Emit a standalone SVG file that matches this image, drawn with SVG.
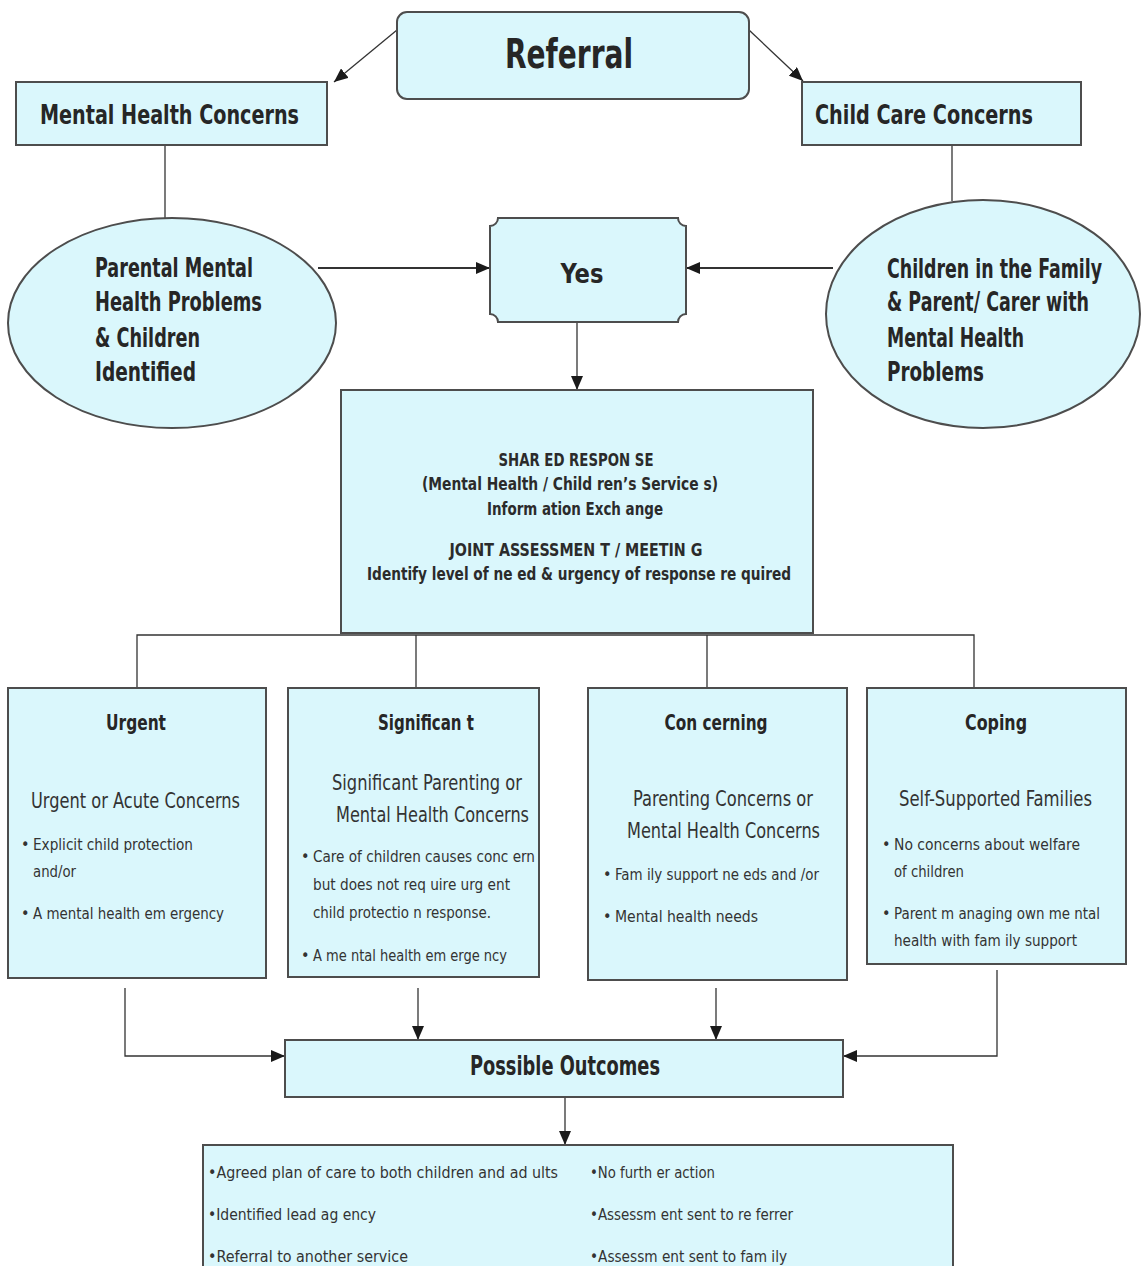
<svg xmlns="http://www.w3.org/2000/svg" width="1142" height="1266" viewBox="0 0 1142 1266">
<style>
.box{fill:#daf7fc;stroke:#4d4d4d;stroke-width:2}
.ln{fill:none;stroke:#333;stroke-width:1.3}
.ar{fill:none;stroke:#333;stroke-width:1.3;marker-end:url(#ah)}
text{font-family:"DejaVu Sans Condensed","Liberation Sans Narrow","Liberation Sans",sans-serif;fill:#262626}
.h{font-weight:bold}
.big{font-size:40px}
.t26{font-size:27px}
.t22{font-size:21px}
.sub{font-size:21px;fill:#333}
.s{font-size:16px;fill:#333}
.sr{font-size:17px;font-weight:bold;fill:#2b2b2b}
.mid{text-anchor:middle}
</style>
<defs>
<marker id="ah" markerUnits="userSpaceOnUse" markerWidth="14" markerHeight="12" refX="14" refY="6" orient="auto">
<path d="M0,0 L14,6 L0,12 z" fill="#1a1a1a"/>
</marker>
</defs>
<g id="connectors">
<line class="ar" x1="397" y1="30" x2="334" y2="82"/>
<line class="ar" x1="749" y1="30" x2="803" y2="81"/>
<line class="ln" x1="165" y1="145" x2="165" y2="218"/>
<line class="ln" x1="952" y1="145" x2="952" y2="201"/>
<line class="ar" x1="318" y1="268" x2="490" y2="268" style="stroke-width:2"/>
<line class="ar" x1="833" y1="268" x2="686" y2="268" style="stroke-width:2"/>
<line class="ar" x1="577" y1="322" x2="577" y2="390"/>
<line class="ln" x1="577" y1="583" x2="577" y2="633"/>
<polyline class="ln" points="137,688 137,635 974,635 974,688"/>
<line class="ln" x1="416" y1="635" x2="416" y2="688"/>
<line class="ln" x1="707" y1="635" x2="707" y2="688"/>
<polyline class="ar" points="125,988 125,1056 285,1056"/>
<line class="ar" x1="418" y1="988" x2="418" y2="1040"/>
<line class="ar" x1="716" y1="988" x2="716" y2="1040"/>
<polyline class="ar" points="997,970 997,1056 843,1056"/>
<line class="ar" x1="565" y1="1097" x2="565" y2="1145"/>
</g>
<g id="referral">
<rect class="box" x="397" y="12" width="352" height="87" rx="10"/>
<text class="h big mid" x="569" y="68" textLength="128" lengthAdjust="spacingAndGlyphs">Referral</text>
</g>
<g id="mental-health-concerns">
<rect class="box" x="16" y="82" width="311" height="63"/>
<text class="h t26" x="40" y="124" textLength="259" lengthAdjust="spacingAndGlyphs">Mental Health Concerns</text>
</g>
<g id="child-care-concerns">
<rect class="box" x="802" y="82" width="279" height="63"/>
<text class="h t26" x="815" y="124" textLength="218" lengthAdjust="spacingAndGlyphs">Child Care Concerns</text>
</g>
<g id="parental-mental-health">
<ellipse class="box" cx="172" cy="323" rx="164" ry="105"/>
<text class="h t26" x="95" y="277" textLength="158" lengthAdjust="spacingAndGlyphs">Parental Mental</text>
<text class="h t26" x="95" y="311" textLength="167" lengthAdjust="spacingAndGlyphs">Health Problems</text>
<text class="h t26" x="95" y="347" textLength="105" lengthAdjust="spacingAndGlyphs">&amp; Children</text>
<text class="h t26" x="95" y="381" textLength="101" lengthAdjust="spacingAndGlyphs">Identified</text>
</g>
<g id="children-in-family">
<ellipse class="box" cx="983" cy="314" rx="157" ry="114"/>
<text class="h t26" x="887" y="278" textLength="215" lengthAdjust="spacingAndGlyphs">Children in the Family</text>
<text class="h t26" x="887" y="311" textLength="202" lengthAdjust="spacingAndGlyphs">&amp; Parent/ Carer with</text>
<text class="h t26" x="887" y="347" textLength="137" lengthAdjust="spacingAndGlyphs">Mental Health</text>
<text class="h t26" x="887" y="381" textLength="97" lengthAdjust="spacingAndGlyphs">Problems</text>
</g>
<g id="yes">
<path class="box" d="M498,218 H678 A8,8 0 0 0 686,226 V314 A8,8 0 0 0 678,322 H498 A8,8 0 0 0 490,314 V226 A8,8 0 0 0 498,218 Z"/>
<text class="h t26 mid" x="582" y="283" textLength="43" lengthAdjust="spacingAndGlyphs">Yes</text>
</g>
<g id="shared-response">
<rect class="box" x="341" y="390" width="472" height="243"/>
<text class="sr mid" x="576" y="466" textLength="155" lengthAdjust="spacingAndGlyphs">SHAR ED RESPON SE</text>
<text class="sr mid" x="570" y="490" textLength="296" lengthAdjust="spacingAndGlyphs">(Mental Health  / Child ren’s  Service s)</text>
<text class="sr mid" x="575" y="515" textLength="176" lengthAdjust="spacingAndGlyphs">Inform ation  Exch ange</text>
<text class="sr mid" x="576" y="556" textLength="253" lengthAdjust="spacingAndGlyphs">JOINT ASSESSMEN T / MEETIN G</text>
<text class="sr mid" x="579" y="580" textLength="424" lengthAdjust="spacingAndGlyphs">Identify  level of ne ed &amp; urgency  of response  re quired</text>
</g>
<g id="urgent">
<rect class="box" x="8" y="688" width="258" height="290"/>
<text class="h t22 mid" x="136" y="730" textLength="60" lengthAdjust="spacingAndGlyphs">Urgent</text>
<text class="sub" x="31" y="808" textLength="209" lengthAdjust="spacingAndGlyphs">Urgent or Acute Concerns</text>
<text class="s" x="21" y="850">•</text>
<text class="s" x="33" y="850" textLength="160" lengthAdjust="spacingAndGlyphs">Explicit child  protection</text>
<text class="s" x="33" y="877" textLength="43" lengthAdjust="spacingAndGlyphs">and/or</text>
<text class="s" x="21" y="919">•</text>
<text class="s" x="33" y="919" textLength="191" lengthAdjust="spacingAndGlyphs">A mental  health  em ergency</text>
</g>
<g id="significant">
<rect class="box" x="288" y="688" width="251" height="289"/>
<text class="h t22 mid" x="426" y="730" textLength="96" lengthAdjust="spacingAndGlyphs">Significan t</text>
<text class="sub" x="332" y="790" textLength="190" lengthAdjust="spacingAndGlyphs">Significant Parenting  or</text>
<text class="sub" x="336" y="822" textLength="193" lengthAdjust="spacingAndGlyphs">Mental Health Concerns</text>
<text class="s" x="301" y="862">•</text>
<text class="s" x="313" y="862" textLength="222" lengthAdjust="spacingAndGlyphs">Care  of children  causes  conc ern</text>
<text class="s" x="313" y="890" textLength="197" lengthAdjust="spacingAndGlyphs">but does not req uire urg ent</text>
<text class="s" x="313" y="918" textLength="178" lengthAdjust="spacingAndGlyphs">child protectio n  response.</text>
<text class="s" x="301" y="961">•</text>
<text class="s" x="313" y="961" textLength="194" lengthAdjust="spacingAndGlyphs">A me ntal  health  em erge ncy</text>
</g>
<g id="concerning">
<rect class="box" x="588" y="688" width="259" height="292"/>
<text class="h t22 mid" x="716" y="730" textLength="103" lengthAdjust="spacingAndGlyphs">Con cerning</text>
<text class="sub" x="633" y="806" textLength="180" lengthAdjust="spacingAndGlyphs">Parenting Concerns or</text>
<text class="sub" x="627" y="838" textLength="193" lengthAdjust="spacingAndGlyphs">Mental Health Concerns</text>
<text class="s" x="603" y="880">•</text>
<text class="s" x="615" y="880" textLength="204" lengthAdjust="spacingAndGlyphs">Fam ily support  ne eds  and /or</text>
<text class="s" x="603" y="922">•</text>
<text class="s" x="615" y="922" textLength="143" lengthAdjust="spacingAndGlyphs">Mental  health  needs</text>
</g>
<g id="coping">
<rect class="box" x="867" y="688" width="259" height="276"/>
<text class="h t22 mid" x="996" y="730" textLength="62" lengthAdjust="spacingAndGlyphs">Coping</text>
<text class="sub" x="899" y="806" textLength="193" lengthAdjust="spacingAndGlyphs">Self-Supported  Families</text>
<text class="s" x="882" y="850">•</text>
<text class="s" x="894" y="850" textLength="186" lengthAdjust="spacingAndGlyphs">No concerns  about  welfare</text>
<text class="s" x="894" y="877" textLength="70" lengthAdjust="spacingAndGlyphs">of children</text>
<text class="s" x="882" y="919">•</text>
<text class="s" x="894" y="919" textLength="206" lengthAdjust="spacingAndGlyphs">Parent  m anaging  own me ntal</text>
<text class="s" x="894" y="946" textLength="183" lengthAdjust="spacingAndGlyphs">health  with fam ily support</text>
</g>
<g id="possible-outcomes">
<rect class="box" x="285" y="1040" width="558" height="57"/>
<text class="h t26 mid" x="565" y="1075" textLength="190" lengthAdjust="spacingAndGlyphs">Possible Outcomes</text>
</g>
<g id="outcomes-list">
<rect class="box" x="203" y="1145" width="750" height="130"/>
<text class="s" x="208" y="1178" textLength="350" lengthAdjust="spacingAndGlyphs">•Agreed  plan of care  to both children  and ad ults</text>
<text class="s" x="208" y="1220" textLength="168" lengthAdjust="spacingAndGlyphs">•Identified  lead  ag ency</text>
<text class="s" x="208" y="1262" textLength="200" lengthAdjust="spacingAndGlyphs">•Referral  to another  service</text>
<text class="s" x="590" y="1178" textLength="125" lengthAdjust="spacingAndGlyphs">•No furth er action</text>
<text class="s" x="590" y="1220" textLength="203" lengthAdjust="spacingAndGlyphs">•Assessm ent sent to re ferrer</text>
<text class="s" x="590" y="1262" textLength="197" lengthAdjust="spacingAndGlyphs">•Assessm ent sent to fam ily</text>
</g>
</svg>
